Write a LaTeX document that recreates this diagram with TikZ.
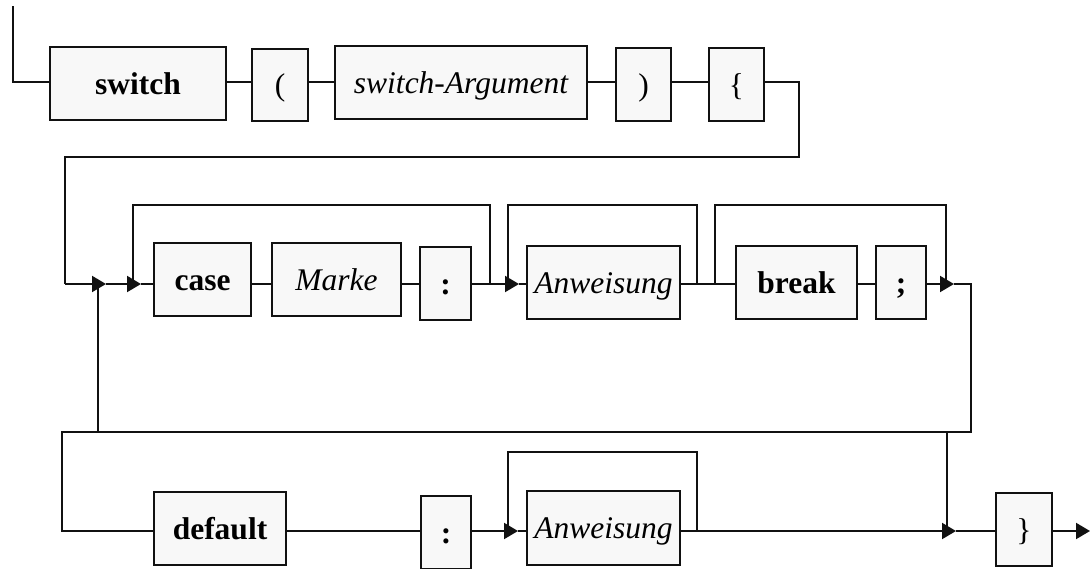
\documentclass[tikz,border=0pt]{standalone}
\usepackage{fontspec}
\setmainfont{Liberation Serif}
\usetikzlibrary{arrows.meta}
\definecolor{boxfill}{HTML}{F8F8F8}
\definecolor{ink}{HTML}{111111}
\tikzset{
  synbox/.style={draw=ink, fill=boxfill, line width=1.8pt, inner sep=0pt,
    text height=21pt, text depth=0pt,
    font=\fontsize{31.5}{36}\selectfont},
  kw/.style={synbox, font=\fontsize{31.5}{36}\selectfont\bfseries},
  nt/.style={synbox, font=\fontsize{31.5}{36}\selectfont\itshape},
  rail/.style={draw=ink, line width=2pt},
  loop/.style={draw=ink, line width=1.5pt},
  arrowtip/.style={-{Triangle[length=14pt,width=16pt]}}
}
\begin{document}
\begin{tikzpicture}[x=1pt,y=-1pt]
\useasboundingbox (0,0) rectangle (1090,568);
% rail levels
\coordinate (r1) at (0,82);
\coordinate (r2) at (0,284);
\coordinate (r3) at (0,531);
% row 1
\node[kw, minimum width=176pt, minimum height=73pt] (switch) at (138,83.5) {switch};
\node[synbox, minimum width=56pt, minimum height=72pt] (lparen) at (280,85) {(};
\node[nt, minimum width=252pt, minimum height=73pt] (arg) at (461,82.5) {switch-Argument};
\node[synbox, minimum width=55pt, minimum height=73pt] (rparen) at (643.5,84.5) {)};
\node[synbox, minimum width=55pt, minimum height=73pt] (lbrace) at (736.5,84.5) {\{};
% row 2
\node[kw, minimum width=97pt, minimum height=73pt] (case) at (202.5,279.5) {case};
\node[nt, minimum width=129pt, minimum height=73pt] (marke) at (336.5,279.5) {Marke};
\node[kw, minimum width=51pt, minimum height=73pt] (colA) at (445.5,283.5) {:};
\node[nt, minimum width=153pt, minimum height=73pt] (anwA) at (603.5,282.5) {Anweisung};
\node[kw, minimum width=121pt, minimum height=73pt] (brk) at (796.5,282.5) {break};
\node[kw, minimum width=50pt, minimum height=73pt] (semi) at (901,282.5) {;};
% row 3
\node[kw, minimum width=132pt, minimum height=73pt] (dflt) at (220,528.5) {default};
\node[kw, minimum width=50pt, minimum height=73pt] (colB) at (446,532.5) {:};
\node[nt, minimum width=153pt, minimum height=74pt] (anwB) at (603.5,528) {Anweisung};
\node[synbox, minimum width=56pt, minimum height=73pt] (rbrace) at (1024,529.5) {\}};
% junction coordinates
\coordinate (start) at (13,6);
\coordinate (a1) at (106,284);
\coordinate (a2) at (141,284);
\coordinate (a3) at (519,284);
\coordinate (a4) at (954,284);
\coordinate (b1) at (518,531);
\coordinate (b2) at (956,531);
\coordinate (endp) at (1090,531);
% row 1 rails
\draw[rail] (start) -- (start |- r1) -- (switch.west |- r1);
\draw[rail] (switch.east |- r1) -- (lparen.west |- r1);
\draw[rail] (lparen.east |- r1) -- (arg.west |- r1);
\draw[rail] (arg.east |- r1) -- (rparen.west |- r1);
\draw[rail] (rparen.east |- r1) -- (lbrace.west |- r1);
\draw[rail] (lbrace.east |- r1) -- (799,82) -- (799,157) -- (65,157) -- (65,284);
% row 2 rails
\draw[rail,arrowtip] (65,284) -- (a1);
\draw[rail,arrowtip] (a1) -- (a2);
\draw[rail] (a2) -- (case.west |- r2);
\draw[rail] (case.east |- r2) -- (marke.west |- r2);
\draw[rail] (marke.east |- r2) -- (colA.west |- r2);
\draw[rail,arrowtip] (colA.east |- r2) -- (a3);
\draw[rail] (a3) -- (anwA.west |- r2);
\draw[rail] (anwA.east |- r2) -- (brk.west |- r2);
\draw[rail] (brk.east |- r2) -- (semi.west |- r2);
\draw[rail,arrowtip] (semi.east |- r2) -- (a4);
\draw[rail] (a4) -- (971,284) -- (971,432) -- (62,432) -- (62,531) -- (dflt.west |- r3);
% row 2 loops
\draw[loop] (490,284) -- (490,205) -- (133,205) -- (133,284);
\draw[loop] (697,284) -- (697,205) -- (508,205) -- (508,284);
\draw[loop] (715,284) -- (715,205) -- (946,205) -- (946,284);
\draw[loop] (98,432) -- (98,284);
% row 3 rails
\draw[rail] (dflt.east |- r3) -- (colB.west |- r3);
\draw[rail,arrowtip] (colB.east |- r3) -- (b1);
\draw[rail] (b1) -- (anwB.west |- r3);
\draw[rail,arrowtip] (anwB.east |- r3) -- (b2);
\draw[rail] (b2) -- (rbrace.west |- r3);
\draw[rail,arrowtip] (rbrace.east |- r3) -- (endp);
\draw[loop] (697,531) -- (697,452) -- (508,452) -- (508,531);
\draw[loop] (947,432) -- (947,531);
\end{tikzpicture}
\end{document}
